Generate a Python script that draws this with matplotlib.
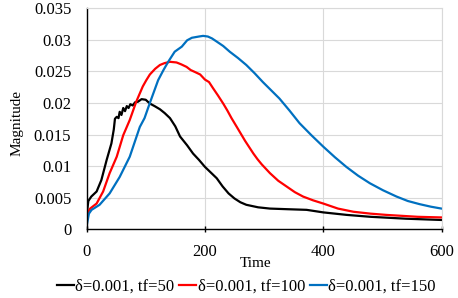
import numpy as np
import matplotlib
matplotlib.use("Agg")
import matplotlib.pyplot as plt

plt.rcParams['font.family'] = ['Liberation Serif', 'DejaVu Serif']

# data
t_black = [0, 3, 8, 17, 25, 34, 42, 46, 48, 51, 54, 56, 59, 62, 65, 68, 71, 74, 78, 82, 87, 93,
           100, 107, 115, 124, 132, 141, 150, 158, 170, 180, 190, 200, 210, 220, 230, 240, 250,
           260, 270, 290, 310, 340, 372, 400, 440, 480, 540, 600]
m_black = [0.0022, 0.0045, 0.0052, 0.006, 0.0078, 0.011, 0.0136, 0.0158, 0.0175, 0.0178, 0.0176,
           0.0186, 0.0181, 0.0192, 0.0187, 0.0195, 0.0192, 0.0198, 0.0196, 0.0201, 0.0202, 0.0206,
           0.0205, 0.0199, 0.0195, 0.019, 0.0184, 0.0176, 0.0163, 0.0147, 0.0133, 0.012, 0.011,
           0.0099, 0.009, 0.0081, 0.0068, 0.0057, 0.0049, 0.0043, 0.0039, 0.0035, 0.0033, 0.0032,
           0.0031, 0.0027, 0.0023, 0.002, 0.0017, 0.0015]

t_red = [0, 3, 6, 17, 28, 39, 51, 62, 73, 84, 95, 101, 107, 116, 124, 132, 141, 152, 160, 169,
         176, 183, 192, 200, 207, 214, 222, 231, 238, 245, 254, 261, 268, 275, 282, 289, 296, 303,
         310, 324, 338, 352, 366, 383, 400, 425, 451, 480, 507, 560, 600]
m_red = [0.0015, 0.0028, 0.0033, 0.0041, 0.006, 0.0089, 0.0115, 0.0149, 0.0173, 0.0202, 0.0226,
         0.0236, 0.0245, 0.0254, 0.026, 0.0263, 0.0265, 0.0264, 0.0261, 0.0257, 0.0252, 0.0249,
         0.0245, 0.0237, 0.0233, 0.0223, 0.0212, 0.0199, 0.0188, 0.0176, 0.0162, 0.0151, 0.014,
         0.013, 0.012, 0.0111, 0.0103, 0.0096, 0.0089, 0.0077, 0.0068, 0.0059, 0.0052, 0.0046,
         0.0041, 0.0033, 0.0028, 0.0025, 0.0023, 0.002, 0.0019]

t_blue = [0, 4, 8.5, 22, 39, 56, 73, 90, 98, 107, 121, 130, 138, 149, 161, 170, 178, 190, 197,
          205, 212, 220, 231, 242, 256, 270, 284, 298, 312, 326, 343, 360, 380, 400, 420, 439,
          459, 479, 501, 524, 543, 563, 582, 600]
m_blue = [0.0005, 0.0025, 0.0031, 0.0039, 0.0057, 0.0083, 0.0115, 0.0162, 0.0176, 0.02, 0.0236,
          0.0252, 0.0265, 0.0281, 0.0289, 0.0299, 0.0303, 0.0305, 0.0306, 0.0305, 0.0302, 0.0297,
          0.029, 0.0281, 0.0271, 0.026, 0.0247, 0.0233, 0.022, 0.0207, 0.0188, 0.0168, 0.0149,
          0.0131, 0.0114, 0.0099, 0.0085, 0.0073, 0.0062, 0.0052, 0.0045, 0.004, 0.0036, 0.0033]

labels = ["δ=0.001, tf=50", "δ=0.001, tf=100", "δ=0.001, tf=150"]
colors = ["#000000", "#ff0000", "#0070c0"]

x_ticks = [0, 200, 400, 600]
y_ticks = [0, 0.005, 0.01, 0.015, 0.02, 0.025, 0.03, 0.035]
y_tick_labels = ["0", "0.005", "0.01", "0.015", "0.02", "0.025", "0.03", "0.035"]

fig = plt.figure(figsize=(4.58, 2.98), dpi=100)
ax = fig.add_axes([0.189, 0.23, 0.775, 0.743])

for t, m, lab, c in zip([t_black, t_red, t_blue], [m_black, m_red, m_blue], labels, colors):
    ax.plot(t, m, color=c, lw=1.6, label=lab, solid_joinstyle="round")

ax.set_xlim(0, 600)
ax.set_ylim(0, 0.035)
ax.set_xticks(x_ticks)
ax.set_yticks(y_ticks)
ax.set_yticklabels(y_tick_labels)
ax.grid(True, color="#d9d9d9", lw=0.8)
ax.set_axisbelow(True)

for s in ["top", "right"]:
    ax.spines[s].set_color("#d9d9d9")
    ax.spines[s].set_linewidth(0.8)
for s in ["left", "bottom"]:
    ax.spines[s].set_color("black")
    ax.spines[s].set_linewidth(1.0)

ax.tick_params(axis="x", direction="inout", length=5, width=1, labelsize=12, pad=8)
ax.tick_params(axis="y", length=0, labelsize=12, pad=11)

ax.set_xlabel("Time", fontsize=11)
ax.set_ylabel("Magnitude", fontsize=11)
ax.xaxis.set_label_coords(0.477, -0.126)
ax.yaxis.set_label_coords(-0.177, 0.483)

fig.legend(loc="center", bbox_to_anchor=(0.538, 0.038), ncol=3, frameon=False,
           fontsize=12, handlelength=1.0, handletextpad=0.1, columnspacing=0.3)

fig.savefig("out.png", dpi=100)
